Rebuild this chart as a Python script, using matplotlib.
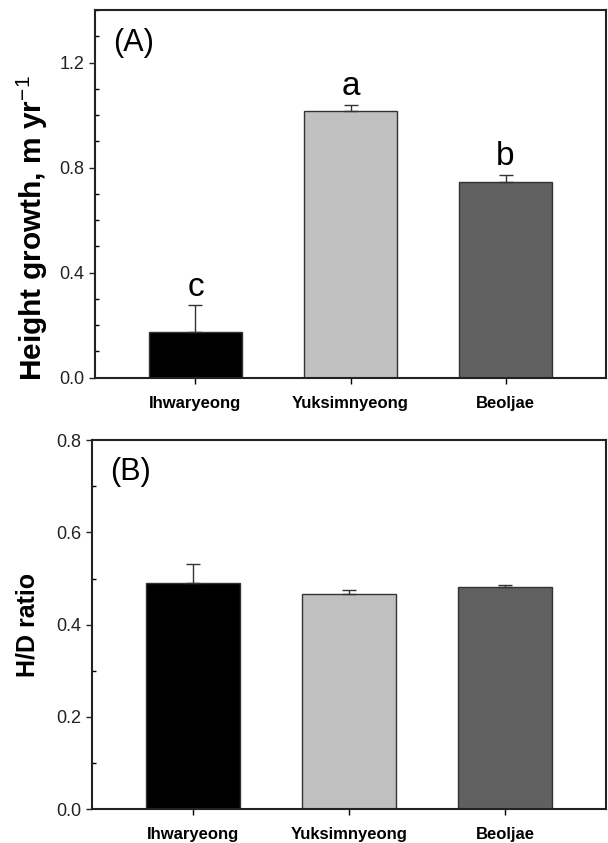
import matplotlib
matplotlib.use("Agg")
import matplotlib.pyplot as plt
from matplotlib.ticker import MultipleLocator

plt.rcParams['font.family'] = ['Liberation Sans', 'DejaVu Sans']
plt.rcParams['mathtext.fontset'] = 'custom'
plt.rcParams['mathtext.rm'] = 'Liberation Sans'
plt.rcParams['mathtext.bf'] = 'Liberation Sans:bold'

# dane
sites = ["Ihwaryeong", "Yuksimnyeong", "Beoljae"]
colors = ["#000000", "#c0c0c0", "#606060"]

growth = [0.175, 1.015, 0.745]   # m/yr
growth_se = [0.100, 0.025, 0.028]
letters = ["c", "a", "b"]

hd_ratio = [0.490, 0.467, 0.481]
hd_se = [0.042, 0.009, 0.006]

fig = plt.figure(figsize=(6.08, 8.43), dpi=100)
ax1 = fig.add_axes([0.157, 0.552, 0.839, 0.436])
ax2 = fig.add_axes([0.152, 0.040, 0.844, 0.438])

x = range(len(sites))


def style(ax, ymax, major):
    ax.set_xlim(-0.645, 2.645)
    ax.set_ylim(0, ymax)
    ax.yaxis.set_major_locator(MultipleLocator(major))
    ax.yaxis.set_minor_locator(MultipleLocator(0.1))
    ax.yaxis.set_major_formatter(matplotlib.ticker.FormatStrFormatter('%.1f'))
    ax.tick_params(axis='y', which='major', direction='out', length=4,
                   width=1, labelsize=13, colors='#222222', pad=4)
    ax.tick_params(axis='y', which='minor', direction='in', length=3, width=1)
    ax.tick_params(axis='x', which='major', direction='out', length=4,
                   width=1, labelsize=12, pad=9)
    ax.set_xticks(list(x))
    ax.set_xticklabels(sites, fontweight='bold')
    for s in ax.spines.values():
        s.set_linewidth(1.5)
        s.set_color('#222222')


# (A) przyrost wysokości
ax1.bar(x, growth, width=0.6, color=colors, edgecolor='#333333', linewidth=1)
ax1.errorbar(x, growth, yerr=[[0, 0, 0], growth_se], fmt='none',
             ecolor='#333333', elinewidth=1, capsize=5, capthick=1)
for i in x:
    ax1.text(i, growth[i] + growth_se[i] + 0.07, letters[i], ha='center',
             va='center', fontsize=24)
style(ax1, 1.4, 0.4)
ax1.set_ylabel("Height growth, m yr$^{-1}$", fontsize=21.5, fontweight='bold',
               va='center')
ax1.yaxis.set_label_coords(-0.125, 0.406)
ax1.text(0.035, 0.91, "(A)", transform=ax1.transAxes, fontsize=22,
         va='center', ha='left')

# (B) H/D
ax2.bar(x, hd_ratio, width=0.6, color=colors, edgecolor='#333333', linewidth=1)
ax2.errorbar(x, hd_ratio, yerr=[[0, 0, 0], hd_se], fmt='none',
             ecolor='#333333', elinewidth=1, capsize=5, capthick=1)
style(ax2, 0.8, 0.2)
ax2.set_ylabel("H/D ratio", fontsize=18, fontweight='bold', va='center')
ax2.yaxis.set_label_coords(-0.126, 0.5)
ax2.text(0.035, 0.913, "(B)", transform=ax2.transAxes, fontsize=22,
         va='center', ha='left')

fig.savefig("out.png", dpi=100)
